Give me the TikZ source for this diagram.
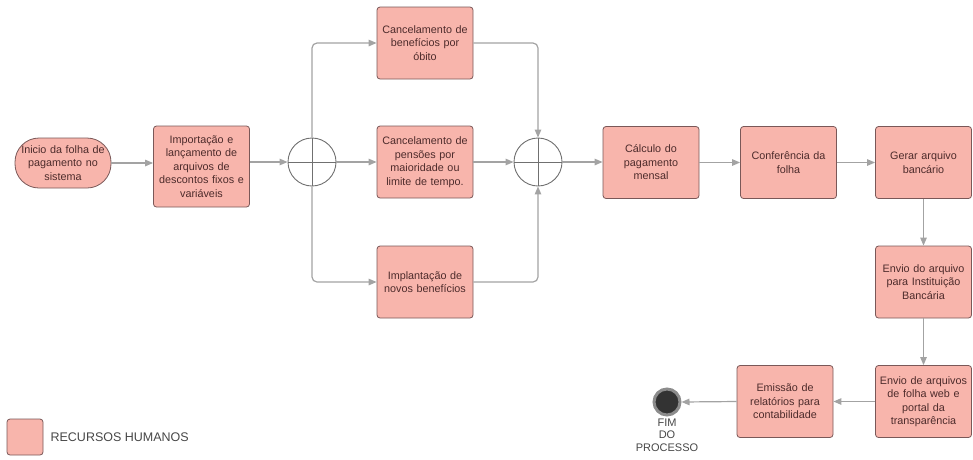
\documentclass[tikz,border=0pt]{standalone}
\usepackage{fontspec}
\setmainfont{Liberation Sans}
\usetikzlibrary{arrows.meta,positioning,calc}
\definecolor{boxfill}{HTML}{F8B5AC}
\definecolor{boxline}{HTML}{7A5858}
\definecolor{boxtext}{HTML}{4D2B2B}
\definecolor{conn}{HTML}{A3A3A3}
\definecolor{gwline}{HTML}{707070}
\tikzset{
  task/.style={draw=boxline, fill=boxfill, line width=0.8pt, rounded corners=3pt,
    minimum width=96pt, minimum height=72pt, align=center, text width=94pt,
    font=\fontsize{10.8}{13.5}\selectfont, text=boxtext, inner sep=1pt},
  startev/.style={draw=boxline, fill=boxfill, line width=0.8pt, rounded corners=24pt,
    minimum width=95pt, minimum height=50pt, align=center, text width=94pt,
    font=\fontsize{10.8}{13.5}\selectfont, text=boxtext, inner sep=1pt},
  gw/.style={circle, draw=gwline, fill=white, line width=0.9pt, minimum size=48pt, inner sep=0pt,
    path picture={\draw[gwline, line width=0.9pt] (path picture bounding box.north) -- (path picture bounding box.south)
      (path picture bounding box.west) -- (path picture bounding box.east);}},
  flow/.style={draw=conn, line width=1.2pt, rounded corners=5pt,
    -{Triangle[length=8pt,width=6.5pt,fill=conn]}},
}
\begin{document}
\begin{tikzpicture}[x=1pt,y=-1pt]
\useasboundingbox (0,0) rectangle (973,459);
\node[startev] (start) at (63,163) {Inicio da folha de\\pagamento no\\sistema};
\node[task, minimum height=81pt] (imp) at (201.5,166.5) {Importação e\\lançamento de\\arquivos de\\descontos fixos e\\variáveis\\[-7pt]};
\node[gw] (g1) at (312,162) {};
\node[task] (b1) at (425,43) {Cancelamento de\\benefícios por\\óbito};
\node[task] (b2) at (425,162) {Cancelamento de\\pensões por\\maioridade ou\\limite de tempo.};
\node[task] (b3) at (425,282) {Implantação de\\novos benefícios};
\node[gw] (g2) at (538,162) {};
\node[task] (calc) at (651,162.5) {Cálculo do\\pagamento\\mensal};
\node[task] (conf) at (788.5,162.5) {Conferência da\\folha\\[-3pt]};
\node[task] (ger) at (923.5,162.5) {Gerar arquivo\\bancário\\[-3pt]};
\node[task] (env1) at (923.5,282) {Envio do arquivo\\para Instituição\\Bancária};
\node[task] (env2) at (923.5,401.5) {Envio de arquivos\\de folha web e\\portal da\\transparência};
\node[task] (emi) at (785,401.5) {Emissão de\\relatórios para\\contabilidade};
\node[circle, fill=black!80, draw=black!45, line width=3pt, minimum size=26pt, inner sep=0pt] (fim) at (667,402) {};
\node[below=1pt of fim, align=center, font=\fontsize{11}{12.5}\selectfont, text=black!72, inner sep=1pt] (fimlbl) {FIM\\DO\\PROCESSO};
\node[draw=boxline, fill=boxfill, line width=0.8pt, rounded corners=3pt, minimum size=36pt, inner sep=0pt] (leg) at (25,437) {};
\node[right=7pt of leg, font=\fontsize{12.5}{14}\selectfont, text=black!72, inner sep=0pt] (legt) {RECURSOS HUMANOS};

\draw[flow] (start.east) -- (start.east -| imp.west);
\draw[flow] (imp.east |- g1.west) -- (g1.west);
\draw[flow] (g1.east) -- (b2.west);
\draw[flow] (g1.north) |- (b1.west);
\draw[flow] (g1.south) |- (b3.west);
\draw[flow] (b1.east) -| (g2.north);
\draw[flow] (b3.east) -| (g2.south);
\draw[flow] (b2.east) -- (g2.west);
\draw[flow] (g2.east) -- (calc.west |- g2.east);
\draw[flow] (calc.east) -- (conf.west);
\draw[flow] (conf.east) -- (ger.west);
\draw[flow] (ger.south) -- (env1.north);
\draw[flow] (env1.south) -- (env2.north);
\draw[flow] (env2.west) -- (emi.east);
\draw[flow] (emi.west) -- (fim.east);
\end{tikzpicture}
\end{document}
